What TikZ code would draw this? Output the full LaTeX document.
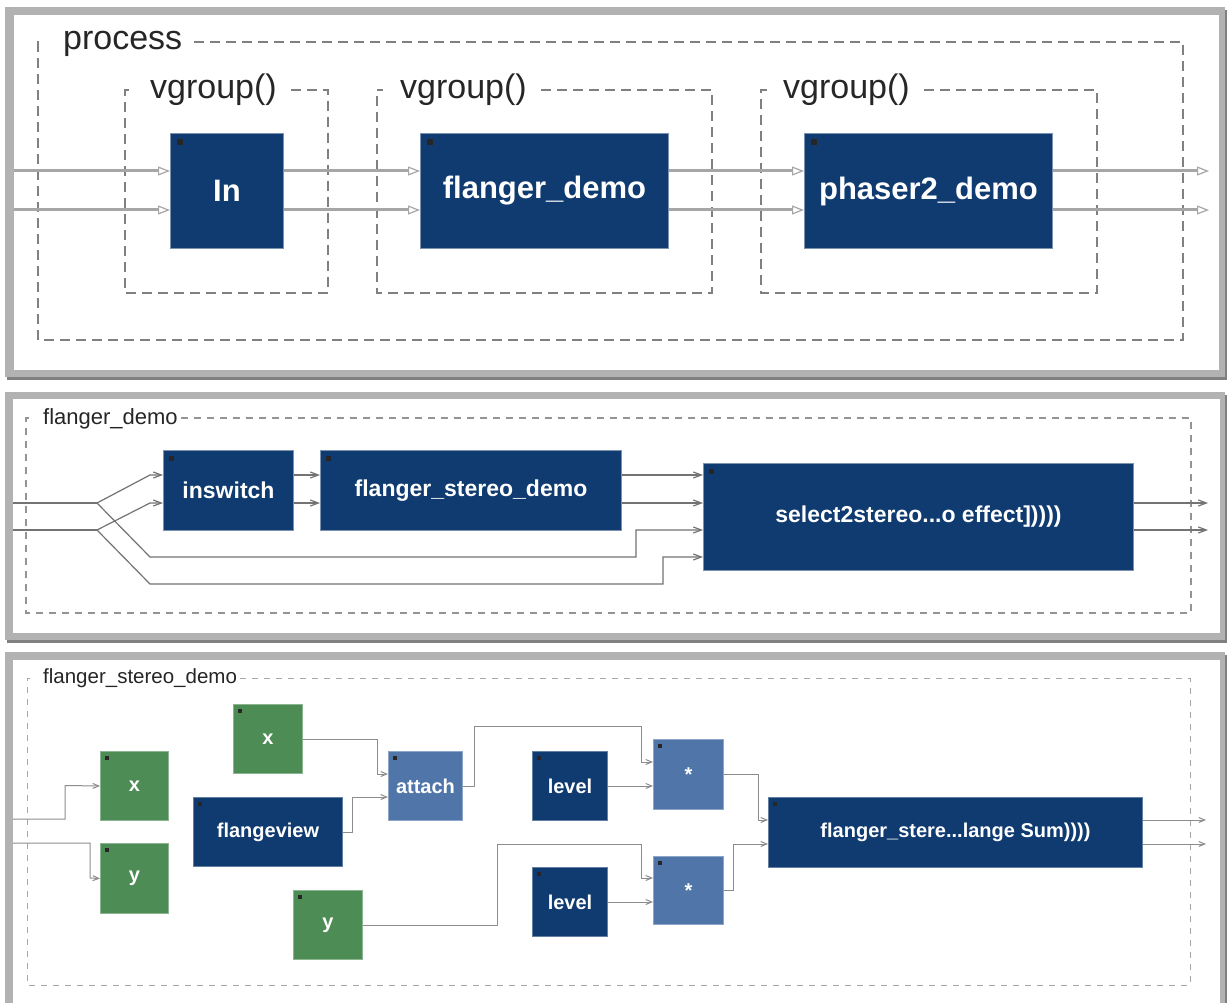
\documentclass[tikz,border=0pt]{standalone}
\usepackage{fontspec}
\setmainfont{Liberation Sans}
\usetikzlibrary{arrows.meta,calc}
\definecolor{navy}{HTML}{0F3B70}
\definecolor{leaf}{HTML}{4D8C55}
\definecolor{steel}{HTML}{5076A9}
\definecolor{framegray}{HTML}{B2B2B2}
\definecolor{frameshade}{HTML}{808080}
\tikzset{
  wh/.style 2 args={minimum width=#1pt, minimum height=#2pt},
  cornermark/.style={path picture={\fill[black!85]
      ([shift={(#1pt,-#1pt)}]path picture bounding box.north west) rectangle ++(#1pt,-#1pt);}},
  blk/.style={anchor=north west, inner sep=0pt, text=white, line width=1pt},
  blkA/.style={blk, fill=navy, draw=navy!55!white, cornermark=6,
      font=\fontsize{31}{36}\selectfont\bfseries},
  blkB/.style={blk, fill=navy, draw=navy!55!white, cornermark=5,
      font=\fontsize{23}{27}\selectfont\bfseries},
  blkC/.style={blk, fill=#1, draw=#1!65!white, cornermark=4,
      font=\fontsize{20}{24}\selectfont\bfseries},
  lblA/.style={anchor=base west, inner sep=0pt, text=black!85, font=\fontsize{34}{40}\selectfont},
  lblB/.style={anchor=base west, inner sep=0pt, text=black!85, font=\fontsize{22}{26}\selectfont},
  lblC/.style={anchor=base west, inner sep=0pt, text=black!85, font=\fontsize{20.5}{24}\selectfont},
  grpA/.style={draw=black!50, line width=1.5pt, dash pattern=on 10pt off 6pt},
  grpB/.style={draw=black!42, line width=1.2pt, dash pattern=on 7pt off 6pt},
  grpC/.style={draw=black!35, line width=1pt, dash pattern=on 6pt off 6pt},
  wireA/.style={draw=black!35, line width=3pt},
  wireB/.style={draw=black!55, line width=1.2pt},
  wireC/.style={draw=black!45, line width=1pt},
  tipA/.style={-{Triangle[open, length=12pt, width=9pt, line width=1.2pt]}},
  tipB/.style={-{Straight Barb[length=8pt, width=6pt]}},
  tipC/.style={-{Straight Barb[length=6pt, width=5pt]}},
}
\begin{document}
\begin{tikzpicture}[x=1pt, y=-1pt]
\useasboundingbox (0,0) rectangle (1227,1003);
\clip (0,0) rectangle (1227,1003);
\fill[white] (0,0) rectangle (1227,1003);

% ---------- panel frames ----------
\fill[frameshade] (7,10) rectangle (1227,380);
\fill[framegray] (5,7) rectangle (1225,377);
\fill[white] (14,15) rectangle (1219,370);

\fill[frameshade] (7,395) rectangle (1227,643);
\fill[framegray] (5,392) rectangle (1225,640);
\fill[white] (13,399) rectangle (1220,633);

\fill[frameshade] (7,655) rectangle (1227,1010);
\fill[framegray] (5,652) rectangle (1225,1010);
\fill[white] (13,660) rectangle (1220,1010);

% ================= panel 1: process =================
\node[lblA] (proc) at (63,50) {process};
\draw[grpA] ($(proc.base east)+(12,-8)$) -- (1183,42) -- (1183,340) -- (38,340) -- (38,42) -- (44,42);

\node[lblA] (vg1) at (150,99) {vgroup()};
\draw[grpA] ($(vg1.base east)+(14,-9)$) -- (328,90) -- (328,293) -- (125,293) -- (125,90) -- (131,90);
\node[lblA] (vg2) at (400,99) {vgroup()};
\draw[grpA] ($(vg2.base east)+(14,-9)$) -- (712,90) -- (712,293) -- (377,293) -- (377,90) -- (383,90);
\node[lblA] (vg3) at (783,99) {vgroup()};
\draw[grpA] ($(vg3.base east)+(14,-9)$) -- (1097,90) -- (1097,293) -- (761,293) -- (761,90) -- (767,90);

\coordinate (a1) at (14,171);
\coordinate (a2) at (14,210);
\coordinate (ao1) at (1209,171);
\coordinate (ao2) at (1209,210);

\node[blkA, wh={113}{115}] (In) at (170,133) {In};
\node[blkA, wh={248}{115}] (FD) at (420,133) {flanger\_demo};
\node[blkA, wh={248}{115}] (PD) at (804,133) {phaser2\_demo};

\foreach \r in {a1,a2}{
  \draw[wireA, tipA] (\r) -- (In.west |- \r);
  \draw[wireA, tipA] (In.east |- \r) -- (FD.west |- \r);
  \draw[wireA, tipA] (FD.east |- \r) -- (PD.west |- \r);
}
\draw[wireA, tipA] (PD.east |- a1) -- (ao1);
\draw[wireA, tipA] (PD.east |- a2) -- (ao2);

% ================= panel 2: flanger_demo =================
\node[lblB] (fdl) at (43,424) {flanger\_demo};
\draw[grpB] ($(fdl.base east)+(3,-6)$) -- (1191,418) -- (1191,613) -- (26,613) -- (26,418) -- (32,418);

\node[blkB, wh={130}{80}] (IS) at (163,450) {inswitch};
\node[blkB, wh={301}{80}] (FSD) at (320,450) {flanger\_stereo\_demo};
\node[blkB, wh={430}{107}] (SEL) at (703,463) {select2stereo...o effect]))))};

\coordinate (b1) at (13,503);
\coordinate (b2) at (13,530);
\coordinate (s1) at (97,503);
\coordinate (s2) at (97,530);
\coordinate (q1) at (0,475);
\coordinate (q2) at (0,503);
\coordinate (q3) at (0,530);
\coordinate (q4) at (0,557);
\coordinate (bo1) at (1208,503);
\coordinate (bo2) at (1208,530);

\draw[wireB] (b1) -- (s1);
\draw[wireB] (b2) -- (s2);
\draw[wireB, tipB] (s1) -- (150,475) -- (IS.west |- q1);
\draw[wireB, tipB] (s2) -- (150,503) -- (IS.west |- q2);
\draw[wireB, tipB] (s1) -- (150,557) -- (636,557) -- (636,530) -- (SEL.west |- q3);
\draw[wireB, tipB] (s2) -- (150,584) -- (663,584) -- (663,557) -- (SEL.west |- q4);
\draw[wireB, tipB] (IS.east |- q1) -- (FSD.west |- q1);
\draw[wireB, tipB] (IS.east |- q2) -- (FSD.west |- q2);
\draw[wireB, tipB] (FSD.east |- q1) -- (SEL.west |- q1);
\draw[wireB, tipB] (FSD.east |- q2) -- (SEL.west |- q2);
\draw[wireB, tipB] (SEL.east |- bo1) -- (bo1);
\draw[wireB, tipB] (SEL.east |- bo2) -- (bo2);

% ================= panel 3: flanger_stereo_demo =================
\node[lblC] (fsdl) at (43,683) {flanger\_stereo\_demo};
\draw[grpC] ($(fsdl.base east)+(3,-5)$) -- (1190,678) -- (1190,985) -- (27,985) -- (27,678) -- (33,678);

\node[blkC=leaf, wh={68}{69}] (X1) at (100,751) {x};
\node[blkC=leaf, wh={68}{70}] (Y1) at (100,843) {y};
\node[blkC=leaf, wh={69}{69}] (X2) at (233,704) {x};
\node[blkC=leaf, wh={69}{69}] (Y2) at (293,890) {y};
\node[blkC=navy, wh={149}{69}] (FV) at (193,797) {flangeview};
\node[blkC=steel, wh={74}{69}] (AT) at (388,751) {attach};
\node[blkC=navy, wh={75}{69}] (L1) at (532,751) {level};
\node[blkC=navy, wh={75}{69}] (L2) at (532,867) {level};
\node[blkC=steel, wh={70}{70}] (M1) at (653,739) {*};
\node[blkC=steel, wh={70}{68}] (M2) at (653,856) {*};
\node[blkC=navy, wh={374}{70}] (FS) at (768,797) {flanger\_stere...lange Sum))))};

\coordinate (c1) at (13,819);
\coordinate (c2) at (13,843);
\coordinate (t1) at (0,774);
\coordinate (t2) at (0,797);
\coordinate (t3) at (0,762);
\coordinate (t4) at (0,878);
\coordinate (t5) at (0,820);
\coordinate (t6) at (0,844);
\coordinate (co1) at (1206,820);
\coordinate (co2) at (1206,844);

\draw[wireC, tipC] (c1) -- (65,819) -- (65,785.5) -- (X1.west);
\draw[wireC, tipC] (c2) -- (90,843) -- (90,878) -- (Y1.west);
\draw[wireC, tipC] (X2.east) -| (377,774) -- (AT.west |- t1);
\draw[wireC, tipC] (FV.east) -| (352,797) -- (AT.west |- t2);
\draw[wireC, tipC] (AT.east) -| (474,726) -| (641,762) -- (M1.west |- t3);
\draw[wireC, tipC] (L1.east) -- (M1.west |- L1.east);
\draw[wireC, tipC] (Y2.east) -| (497,844) -| (641,878) -- (M2.west |- t4);
\draw[wireC, tipC] (L2.east) -- (M2.west |- L2.east);
\draw[wireC, tipC] (M1.east) -| (758,820) -- (FS.west |- t5);
\draw[wireC, tipC] (M2.east) -| (733,844) -- (FS.west |- t6);
\draw[wireC, tipC] (FS.east |- co1) -- (co1);
\draw[wireC, tipC] (FS.east |- co2) -- (co2);
\end{tikzpicture}
\end{document}
